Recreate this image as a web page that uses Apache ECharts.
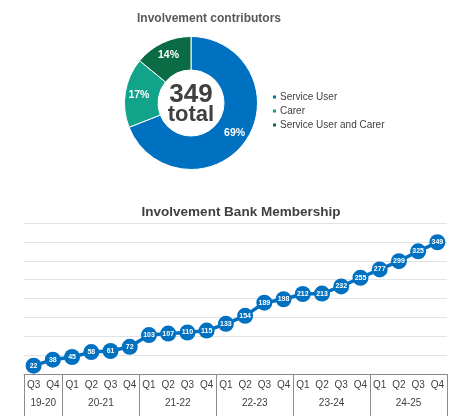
<!DOCTYPE html>
<html>
<head>
<meta charset="utf-8">
<script src="https://cdn.jsdelivr.net/npm/echarts@6/dist/echarts.min.js"></script>
<style>
  html, body { margin: 0; padding: 0; background: #fff; }
  #chart { width: 454px; height: 416px; }
</style>
</head>
<body>
<div id="chart"></div>
<script>
// contributors donut
const contribNames = ['Service User', 'Carer', 'Service User and Carer'];
const contribValues = [241, 59, 49];
const contribColors = ['#0070C0', '#12A38B', '#0A6B45'];
const contribTotal = 349;

// membership line
const quarters = ['Q3', 'Q4',
  'Q1', 'Q2', 'Q3', 'Q4',
  'Q1', 'Q2', 'Q3', 'Q4',
  'Q1', 'Q2', 'Q3', 'Q4',
  'Q1', 'Q2', 'Q3', 'Q4',
  'Q1', 'Q2', 'Q3', 'Q4'];
const members = [22, 38, 45, 58, 61, 72, 103, 107, 110, 115, 133, 154,
  189, 198, 212, 213, 232, 255, 277, 299, 325, 349];
const years = ['19-20', '20-21', '21-22', '22-23', '23-24', '24-25'];
const yearSizes = [2, 4, 4, 4, 4, 4];

// group edges and centres on a 0..n value scale (for the year row)
const edges = [0];
yearSizes.forEach(s => edges.push(edges[edges.length - 1] + s));
const centres = years.map((y, i) => (edges[i] + edges[i + 1]) / 2);

const font = '"Liberation Sans", Arial, sans-serif';
const chart = echarts.init(document.getElementById('chart'));

chart.setOption({
  animation: false,
  textStyle: { fontFamily: font },
  title: [
    {
      text: 'Involvement contributors',
      left: 204, top: 8, textAlign: 'center',
      textStyle: { fontSize: 12, fontWeight: 'bold', color: '#595959', fontFamily: font }
    },
    {
      text: 'Involvement Bank Membership',
      left: 236, top: 200, textAlign: 'center',
      textStyle: { fontSize: 13.5, fontWeight: 'bold', color: '#404040', fontFamily: font }
    }
  ],
  legend: {
    orient: 'vertical',
    left: 266, top: 87,
    itemWidth: 5, itemHeight: 5, itemGap: 4,
    icon: 'rect',
    data: contribNames,
    textStyle: { fontSize: 10, color: '#404040', padding: [0, 0, 0, -2] }
  },
  graphic: [
    {
      type: 'text',
      style: {
        text: String(contribTotal), x: 191, y: 95,
        textAlign: 'center', textVerticalAlign: 'middle',
        font: 'bold 26px ' + font, fill: '#404040'
      }
    },
    {
      type: 'text',
      style: {
        text: 'total', x: 191, y: 115,
        textAlign: 'center', textVerticalAlign: 'middle',
        font: 'bold 22px ' + font, fill: '#404040'
      }
    }
  ],
  grid: { left: 24, right: 7, top: 223, bottom: 42 },
  xAxis: [
    {
      type: 'category',
      data: quarters,
      position: 'bottom',
      axisLine: { lineStyle: { color: '#8c8c8c', width: 1 } },
      axisTick: { show: false },
      axisLabel: { fontSize: 10, color: '#404040', margin: 6, interval: 0 }
    },
    {
      type: 'value',
      min: 0, max: quarters.length,
      position: 'bottom',
      axisLine: { show: false },
      splitLine: { show: false },
      axisTick: {
        show: true, length: 42, customValues: edges,
        lineStyle: { color: '#8c8c8c', width: 1 }
      },
      axisLabel: {
        customValues: centres, fontSize: 10, color: '#404040', margin: 24,
        formatter: v => years[centres.indexOf(v)] || ''
      }
    }
  ],
  yAxis: {
    type: 'value', min: 0, max: 400, interval: 50,
    axisLine: { show: false }, axisTick: { show: false },
    axisLabel: { show: false },
    splitLine: { lineStyle: { color: '#e3e3e3', width: 1 } }
  },
  series: [
    {
      type: 'pie',
      center: [191, 103],
      radius: [33, 66.5],
      startAngle: 90,
      clockwise: true,
      color: contribColors,
      itemStyle: { borderColor: '#fff', borderWidth: 1 },
      label: {
        position: 'inside', formatter: p => Math.round(p.percent) + '%',
        color: '#fff', fontWeight: 'bold', fontSize: 10.5
      },
      labelLine: { show: false },
      emphasis: { disabled: true },
      data: contribNames.map((n, i) => ({ name: n, value: contribValues[i] }))
    },
    {
      type: 'line',
      xAxisIndex: 0,
      data: members,
      lineStyle: { color: '#0070C0', width: 3.5 },
      itemStyle: { color: '#0070C0' },
      symbol: 'circle',
      symbolSize: 16,
      label: {
        show: true, position: 'inside',
        color: '#fff', fontSize: 7, fontWeight: 'bold'
      }
    }
  ]
});
</script>
</body>
</html>
